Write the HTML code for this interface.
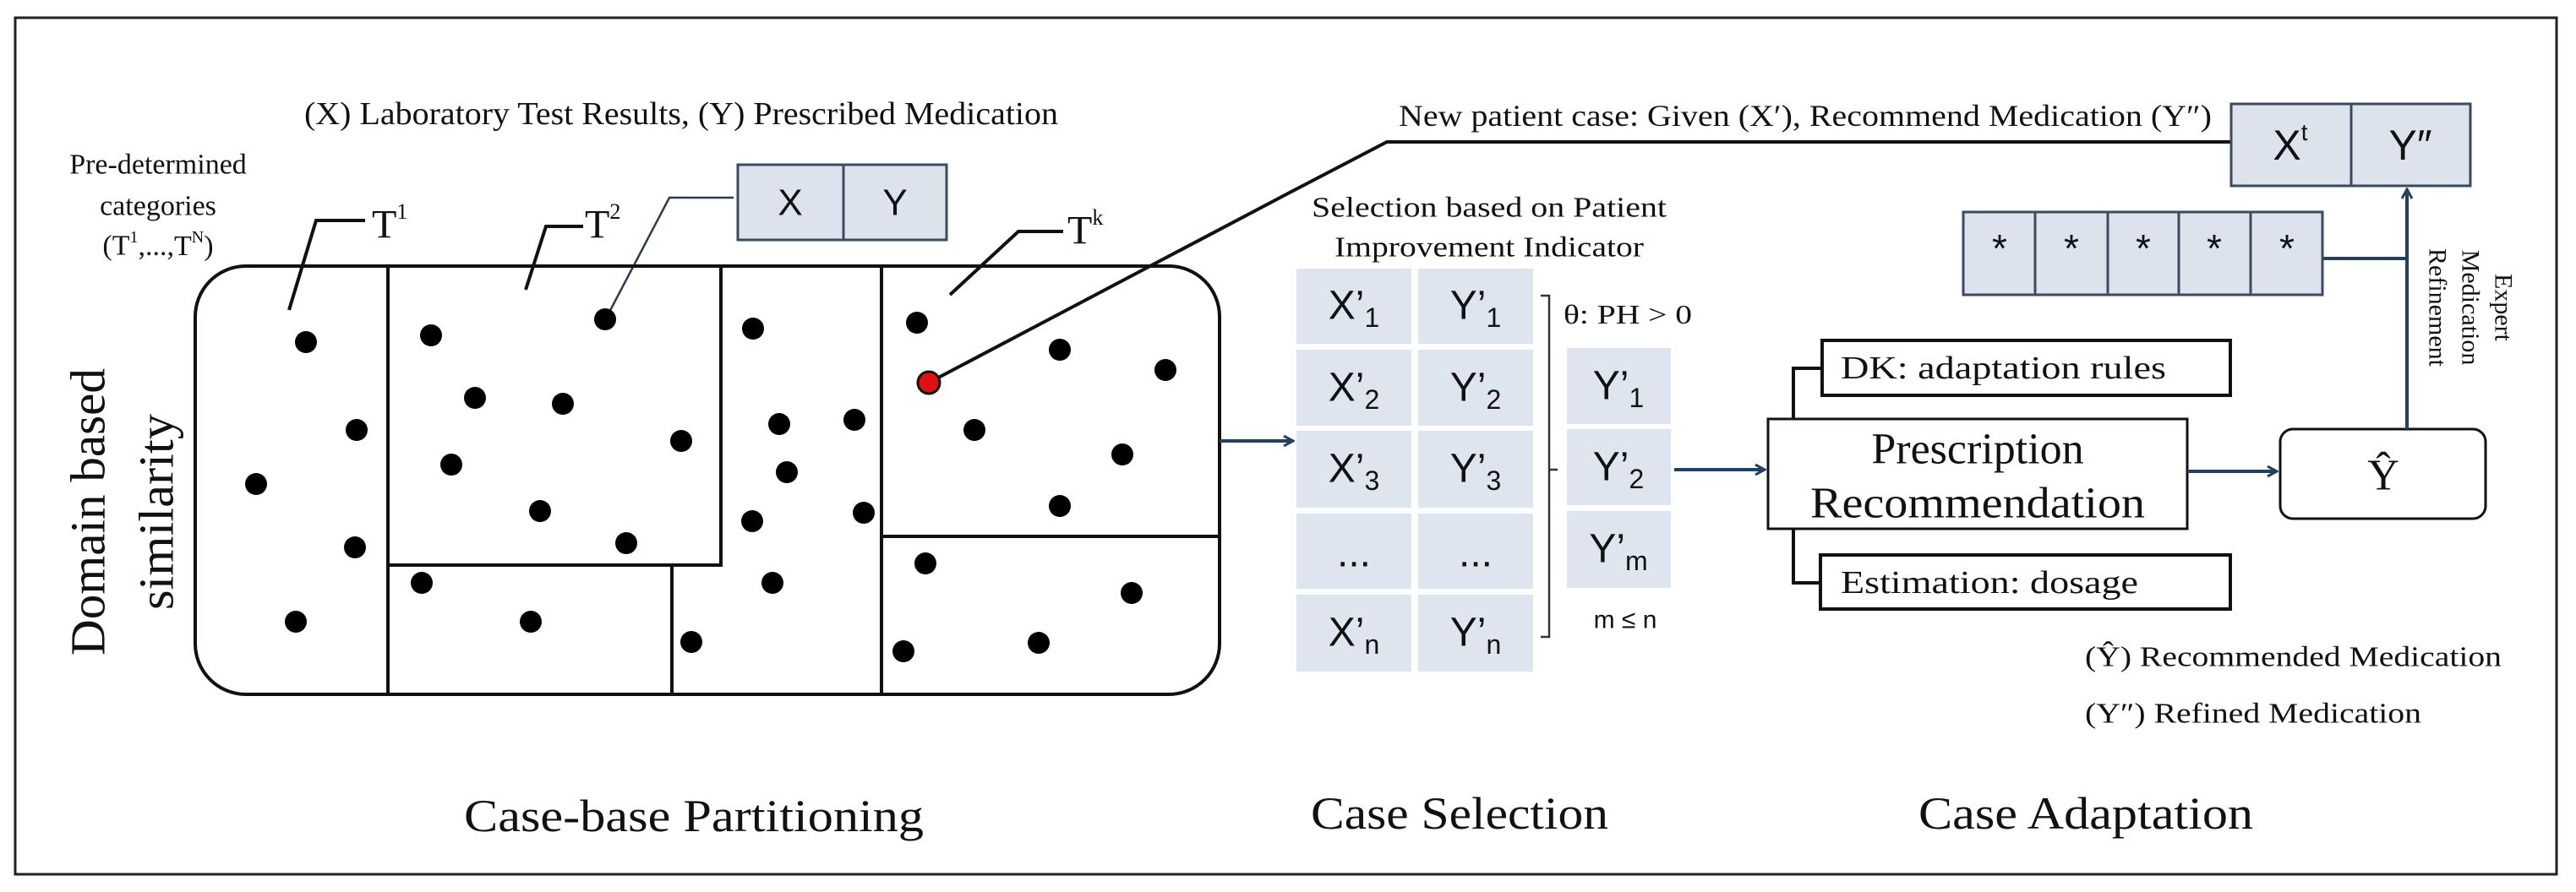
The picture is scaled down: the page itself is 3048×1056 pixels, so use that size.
<!DOCTYPE html>
<html><head><meta charset="utf-8"><style>
html,body{margin:0;padding:0;background:#fff;}
svg{display:block;}
text{font-family:"Liberation Serif",serif;fill:#111;}
.s{font-family:"Liberation Sans Narrow","Liberation Sans",sans-serif;}
</style></head><body>
<svg width="3048" height="1056" viewBox="0 0 3048 1056" xmlns="http://www.w3.org/2000/svg">
<defs>
<marker id="ar" markerWidth="14" markerHeight="14" refX="12" refY="7" orient="auto" markerUnits="userSpaceOnUse">
<path d="M1,1 L12,7 L1,13" fill="none" stroke="#24405e" stroke-width="3"/>
</marker>
</defs>
<rect x="18" y="21" width="3007" height="1014" fill="#fff" stroke="#222" stroke-width="3"/>

<text x="360" y="135" font-size="38" dominant-baseline="central" textLength="892" lengthAdjust="spacingAndGlyphs">(X) Laboratory Test Results, (Y) Prescribed Medication</text>
<text x="187" y="195" font-size="34" text-anchor="middle" dominant-baseline="central">Pre-determined</text>
<text x="187" y="244" font-size="34" text-anchor="middle" dominant-baseline="central">categories</text>
<text x="187" y="291" font-size="34" text-anchor="middle" dominant-baseline="central">(T<tspan font-size="20" dy="-10">1</tspan><tspan dy="10">,...,T</tspan><tspan font-size="20" dy="-10">N</tspan><tspan dy="10">)</tspan></text>

<!-- leaders -->
<g fill="none" stroke="#111" stroke-width="4">
<polyline points="432,261 374,261 342,367"/>
<polyline points="690,268 646,268 622,343"/>
<polyline points="1258,274 1205,274 1124,349"/>
</g>
<polyline points="868,234 792,234 717,377" fill="none" stroke="#2a3b52" stroke-width="2.5"/>
<text x="440" y="266" font-size="48" dominant-baseline="central">T<tspan font-size="26" dy="-16">1</tspan></text>
<text x="692" y="266" font-size="48" dominant-baseline="central">T<tspan font-size="26" dy="-16">2</tspan></text>
<text x="1263" y="273" font-size="48" dominant-baseline="central">T<tspan font-size="26" dy="-16">k</tspan></text>

<rect x="873" y="195" width="247" height="89" fill="#dde3ec" stroke="#3b4a5e" stroke-width="3"/>
<line x1="998" y1="195" x2="998" y2="284" stroke="#3b4a5e" stroke-width="3"/>
<text class="s" x="935" y="240" font-size="44" text-anchor="middle" dominant-baseline="central">X</text>
<text class="s" x="1059" y="240" font-size="44" text-anchor="middle" dominant-baseline="central">Y</text>

<!-- rounded case base -->
<rect x="231" y="315" width="1212" height="507" rx="60" ry="60" fill="none" stroke="#111" stroke-width="4"/>
<g stroke="#111" stroke-width="4" fill="none">
<line x1="459" y1="315" x2="459" y2="822"/>
<polyline points="459,669 853,669 853,315"/>
<line x1="795" y1="669" x2="795" y2="822"/>
<line x1="1043" y1="315" x2="1043" y2="822"/>
<line x1="1043" y1="635" x2="1443" y2="635"/>
</g>
<g fill="#000">
<circle cx="362" cy="405" r="13"/><circle cx="422" cy="509" r="13"/><circle cx="303" cy="573" r="13"/>
<circle cx="420" cy="648" r="13"/><circle cx="350" cy="736" r="13"/><circle cx="510" cy="397" r="13"/>
<circle cx="716" cy="378" r="13"/><circle cx="562" cy="471" r="13"/><circle cx="666" cy="478" r="13"/>
<circle cx="806" cy="522" r="13"/><circle cx="534" cy="550" r="13"/><circle cx="639" cy="605" r="13"/>
<circle cx="741" cy="643" r="13"/><circle cx="499" cy="690" r="13"/><circle cx="628" cy="736" r="13"/>
<circle cx="818" cy="760" r="13"/><circle cx="891" cy="389" r="13"/><circle cx="922" cy="502" r="13"/>
<circle cx="1011" cy="497" r="13"/><circle cx="931" cy="559" r="13"/><circle cx="890" cy="617" r="13"/>
<circle cx="1022" cy="607" r="13"/><circle cx="914" cy="690" r="13"/><circle cx="1085" cy="382" r="13"/>
<circle cx="1254" cy="414" r="13"/><circle cx="1379" cy="438" r="13"/><circle cx="1153" cy="509" r="13"/>
<circle cx="1328" cy="538" r="13"/><circle cx="1254" cy="599" r="13"/><circle cx="1095" cy="667" r="13"/>
<circle cx="1339" cy="702" r="13"/><circle cx="1069" cy="771" r="13"/><circle cx="1229" cy="761" r="13"/>
</g>
<polyline points="1099,453 1524,229 1641,168 2640,168" fill="none" stroke="#111" stroke-width="4"/>
<circle cx="1099" cy="453" r="13" fill="#e01010" stroke="#111" stroke-width="3"/>

<text x="0" y="0" font-size="58" text-anchor="middle" dominant-baseline="central" transform="translate(104,606) rotate(-90)" textLength="340" lengthAdjust="spacingAndGlyphs">Domain based</text>
<text x="0" y="0" font-size="58" text-anchor="middle" dominant-baseline="central" transform="translate(185,606) rotate(-90)" textLength="232" lengthAdjust="spacingAndGlyphs">similarity</text>

<line x1="1443" y1="522" x2="1530" y2="522" stroke="#24405e" stroke-width="4" marker-end="url(#ar)"/>

<text x="549" y="966" font-size="54" dominant-baseline="central" textLength="544" lengthAdjust="spacingAndGlyphs">Case-base Partitioning</text>
<text x="1551" y="963" font-size="54" dominant-baseline="central" textLength="352" lengthAdjust="spacingAndGlyphs">Case Selection</text>
<text x="2270" y="963" font-size="54" dominant-baseline="central" textLength="396" lengthAdjust="spacingAndGlyphs">Case Adaptation</text>

<!-- new patient -->
<text x="1655" y="137" font-size="36" dominant-baseline="central" textLength="962" lengthAdjust="spacingAndGlyphs">New patient case: Given (X′), Recommend Medication (Y″)</text>
<rect x="2640" y="123" width="283" height="97" fill="#dde3ec" stroke="#3b4a5e" stroke-width="3"/>
<line x1="2782" y1="123" x2="2782" y2="220" stroke="#3b4a5e" stroke-width="3"/>
<text class="s" x="2710" y="172" font-size="50" text-anchor="middle" dominant-baseline="central">X<tspan font-size="28" dy="-16">t</tspan></text>
<text class="s" x="2852" y="172" font-size="50" text-anchor="middle" dominant-baseline="central">Y″</text>

<text x="1762" y="246" font-size="34" text-anchor="middle" dominant-baseline="central" textLength="420" lengthAdjust="spacingAndGlyphs">Selection based on Patient</text>
<text x="1762" y="293" font-size="34" text-anchor="middle" dominant-baseline="central" textLength="366" lengthAdjust="spacingAndGlyphs">Improvement Indicator</text>

<!-- table -->
<g fill="#dfe5ee">
<rect x="1534" y="318" width="136" height="89"/><rect x="1678" y="318" width="136" height="89"/>
<rect x="1534" y="414" width="136" height="90"/><rect x="1678" y="414" width="136" height="90"/>
<rect x="1534" y="510" width="136" height="91"/><rect x="1678" y="510" width="136" height="91"/>
<rect x="1534" y="608" width="136" height="89"/><rect x="1678" y="608" width="136" height="89"/>
<rect x="1534" y="704" width="136" height="91"/><rect x="1678" y="704" width="136" height="91"/>
<rect x="1854" y="412" width="123" height="90"/><rect x="1854" y="508" width="123" height="90"/>
<rect x="1854" y="605" width="123" height="91"/>
</g>
<g class="s" font-size="48">
<text class="s" x="1602" y="362" text-anchor="middle" dominant-baseline="central">X’<tspan font-size="32" dy="14">1</tspan></text>
<text class="s" x="1746" y="362" text-anchor="middle" dominant-baseline="central">Y’<tspan font-size="32" dy="14">1</tspan></text>
<text class="s" x="1602" y="459" text-anchor="middle" dominant-baseline="central">X’<tspan font-size="32" dy="14">2</tspan></text>
<text class="s" x="1746" y="459" text-anchor="middle" dominant-baseline="central">Y’<tspan font-size="32" dy="14">2</tspan></text>
<text class="s" x="1602" y="555" text-anchor="middle" dominant-baseline="central">X’<tspan font-size="32" dy="14">3</tspan></text>
<text class="s" x="1746" y="555" text-anchor="middle" dominant-baseline="central">Y’<tspan font-size="32" dy="14">3</tspan></text>
<text class="s" x="1602" y="655" text-anchor="middle" dominant-baseline="central">...</text>
<text class="s" x="1746" y="655" text-anchor="middle" dominant-baseline="central">...</text>
<text class="s" x="1602" y="749" text-anchor="middle" dominant-baseline="central">X’<tspan font-size="32" dy="14">n</tspan></text>
<text class="s" x="1746" y="749" text-anchor="middle" dominant-baseline="central">Y’<tspan font-size="32" dy="14">n</tspan></text>
<text class="s" x="1915" y="457" text-anchor="middle" dominant-baseline="central">Y’<tspan font-size="32" dy="14">1</tspan></text>
<text class="s" x="1915" y="553" text-anchor="middle" dominant-baseline="central">Y’<tspan font-size="32" dy="14">2</tspan></text>
<text class="s" x="1915" y="650" text-anchor="middle" dominant-baseline="central">Y’<tspan font-size="32" dy="14">m</tspan></text>
</g>
<polyline points="1823,350 1833,350 1833,754 1823,754" fill="none" stroke="#333" stroke-width="2.5"/>
<line x1="1833" y1="556" x2="1843" y2="556" stroke="#333" stroke-width="2.5"/>
<text x="1850" y="372" font-size="32" dominant-baseline="central" textLength="152" lengthAdjust="spacingAndGlyphs">θ: PH &gt; 0</text>
<text class="s" x="1923" y="734" font-size="30" text-anchor="middle" dominant-baseline="central">m ≤ n</text>

<line x1="1981" y1="556" x2="2088" y2="556" stroke="#24405e" stroke-width="4" marker-end="url(#ar)"/>

<!-- adaptation -->
<polyline points="2156,436 2122,436 2122,690 2154,690" fill="none" stroke="#111" stroke-width="4"/>
<rect x="2092" y="496" width="496" height="130" fill="#fff" stroke="#111" stroke-width="3"/>
<text x="2340" y="532" font-size="52" text-anchor="middle" dominant-baseline="central">Prescription</text>
<text x="2340" y="596" font-size="52" text-anchor="middle" dominant-baseline="central" textLength="396" lengthAdjust="spacingAndGlyphs">Recommendation</text>
<rect x="2156" y="403" width="483" height="65" fill="#fff" stroke="#111" stroke-width="4"/>
<text x="2178" y="436" font-size="38" dominant-baseline="central" textLength="385" lengthAdjust="spacingAndGlyphs">DK: adaptation rules</text>
<rect x="2154" y="657" width="485" height="64" fill="#fff" stroke="#111" stroke-width="4"/>
<text x="2178" y="690" font-size="38" dominant-baseline="central" textLength="352" lengthAdjust="spacingAndGlyphs">Estimation: dosage</text>

<line x1="2588" y1="558" x2="2694" y2="558" stroke="#24405e" stroke-width="4" marker-end="url(#ar)"/>
<rect x="2698" y="508" width="243" height="106" rx="15" ry="15" fill="#fff" stroke="#111" stroke-width="3"/>
<text x="2820" y="563" font-size="52" text-anchor="middle" dominant-baseline="central">Ŷ</text>

<line x1="2848" y1="508" x2="2848" y2="224" stroke="#24405e" stroke-width="4" marker-end="url(#ar)"/>
<line x1="2748" y1="306" x2="2848" y2="306" stroke="#24405e" stroke-width="4"/>
<rect x="2323" y="251" width="425" height="98" fill="#dde3ec" stroke="#3b4a5e" stroke-width="3"/>
<g stroke="#3b4a5e" stroke-width="3">
<line x1="2408" y1="251" x2="2408" y2="349"/><line x1="2494" y1="251" x2="2494" y2="349"/>
<line x1="2578" y1="251" x2="2578" y2="349"/><line x1="2663" y1="251" x2="2663" y2="349"/>
</g>
<g font-size="46" text-anchor="middle">
<text class="s" x="2366" y="310" text-anchor="middle">*</text><text class="s" x="2451" y="310" text-anchor="middle">*</text>
<text class="s" x="2536" y="310" text-anchor="middle">*</text><text class="s" x="2620" y="310" text-anchor="middle">*</text>
<text class="s" x="2706" y="310" text-anchor="middle">*</text>
</g>
<text x="0" y="0" font-size="30" text-anchor="middle" dominant-baseline="central" transform="translate(2962,364) rotate(90)">Expert</text>
<text x="0" y="0" font-size="30" text-anchor="middle" dominant-baseline="central" transform="translate(2923,364) rotate(90)">Medication</text>
<text x="0" y="0" font-size="30" text-anchor="middle" dominant-baseline="central" transform="translate(2884,364) rotate(90)">Refinement</text>

<text x="2467" y="778" font-size="34" dominant-baseline="central" textLength="493" lengthAdjust="spacingAndGlyphs">(Ŷ) Recommended Medication</text>
<text x="2467" y="845" font-size="34" dominant-baseline="central" textLength="398" lengthAdjust="spacingAndGlyphs">(Y″) Refined Medication</text>
</svg>
</body></html>
